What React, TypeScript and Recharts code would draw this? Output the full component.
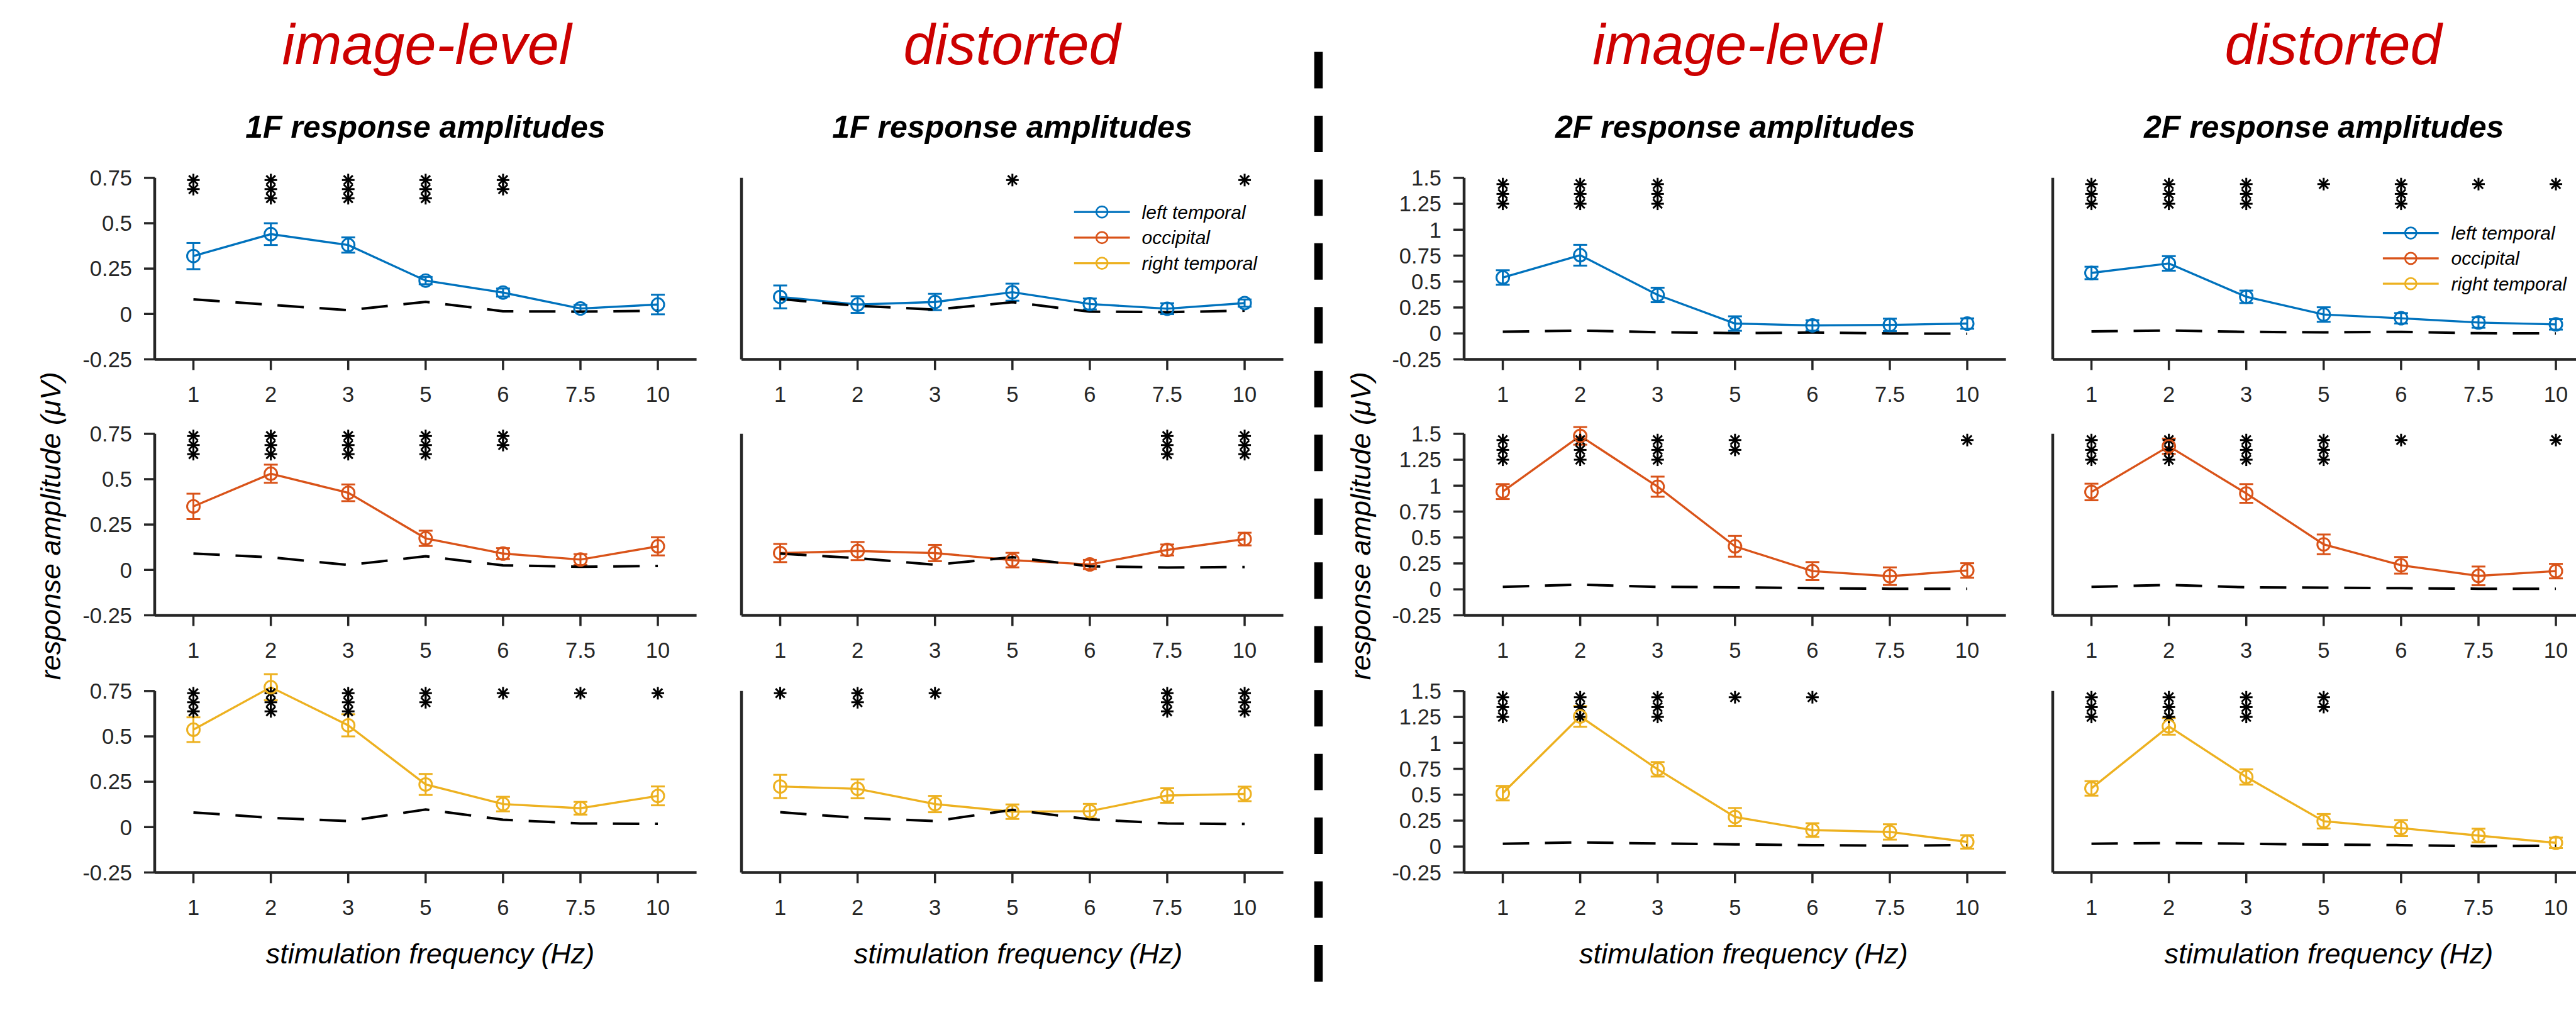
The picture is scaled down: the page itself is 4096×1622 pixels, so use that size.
import React from 'react';
import { ComposedChart, Line, Scatter, XAxis, YAxis, ErrorBar, ReferenceLine } from 'recharts';

const S = 0.906; // reference px -> window px

const freqs = ['1', '2', '3', '5', '6', '7.5', '10'];
const regionNames = ['left temporal', 'occipital', 'right temporal'];
const regionColors = ['#0072BD', '#D95319', '#EDB120'];
const conditionTitles = ['image-level', 'distorted', 'image-level', 'distorted'];
const panelTitles = ['1F response amplitudes', '1F response amplitudes', '2F response amplitudes', '2F response amplitudes'];
const ticks1F = [-0.25, 0, 0.25, 0.5, 0.75];
const ticks2F = [-0.25, 0, 0.25, 0.5, 0.75, 1, 1.25, 1.5];

// 1F, image-level
const f1ImgLeft = [0.319, 0.44, 0.38, 0.184, 0.118, 0.03, 0.052];
const f1ImgLeftErr = [0.072, 0.06, 0.042, 0.02, 0.022, 0.02, 0.054];
const f1ImgLeftNoise = [0.081, 0.05, 0.021, 0.067, 0.015, 0.013, 0.018];
const f1ImgLeftStars = [2, 3, 3, 3, 2, 0, 0];
const f1ImgOcc = [0.35, 0.53, 0.425, 0.174, 0.09, 0.057, 0.13];
const f1ImgOccErr = [0.07, 0.05, 0.046, 0.042, 0.03, 0.03, 0.05];
const f1ImgOccNoise = [0.09, 0.07, 0.027, 0.075, 0.025, 0.017, 0.022];
const f1ImgOccStars = [3, 3, 3, 3, 2, 0, 0];
const f1ImgRight = [0.537, 0.771, 0.561, 0.235, 0.127, 0.104, 0.172];
const f1ImgRightErr = [0.068, 0.072, 0.061, 0.058, 0.04, 0.035, 0.052];
const f1ImgRightNoise = [0.081, 0.051, 0.033, 0.097, 0.041, 0.02, 0.018];
const f1ImgRightStars = [3, 3, 3, 2, 1, 1, 1];

// 1F, distorted
const f1DisLeft = [0.094, 0.052, 0.066, 0.12, 0.055, 0.029, 0.06];
const f1DisLeftErr = [0.063, 0.046, 0.045, 0.047, 0.03, 0.03, 0.02];
const f1DisLeftNoise = [0.082, 0.045, 0.024, 0.065, 0.013, 0.01, 0.018];
const f1DisLeftStars = [0, 0, 0, 1, 0, 0, 1];
const f1DisOcc = [0.093, 0.104, 0.093, 0.054, 0.03, 0.11, 0.17];
const f1DisOccErr = [0.05, 0.05, 0.045, 0.04, 0.025, 0.03, 0.035];
const f1DisOccNoise = [0.09, 0.065, 0.028, 0.07, 0.02, 0.013, 0.016];
const f1DisOccStars = [0, 0, 0, 0, 0, 3, 3];
const f1DisRight = [0.224, 0.211, 0.127, 0.085, 0.088, 0.174, 0.183];
const f1DisRightErr = [0.064, 0.052, 0.045, 0.04, 0.04, 0.04, 0.04];
const f1DisRightNoise = [0.082, 0.051, 0.033, 0.095, 0.043, 0.02, 0.017];
const f1DisRightStars = [1, 2, 1, 0, 0, 3, 3];

// 2F, image-level
const f2ImgLeft = [0.539, 0.754, 0.371, 0.095, 0.077, 0.082, 0.095];
const f2ImgLeftErr = [0.07, 0.1, 0.07, 0.07, 0.05, 0.06, 0.05];
const f2ImgLeftNoise = [0.016, 0.027, 0.012, 0.003, 0.008, 0.0, -0.003];
const f2ImgLeftStars = [3, 3, 3, 0, 0, 0, 0];
const f2ImgOcc = [0.943, 1.48, 0.99, 0.415, 0.176, 0.127, 0.182];
const f2ImgOccErr = [0.072, 0.085, 0.097, 0.1, 0.087, 0.085, 0.07];
const f2ImgOccNoise = [0.024, 0.046, 0.024, 0.02, 0.011, 0.006, 0.006];
const f2ImgOccStars = [3, 3, 3, 2, 0, 0, 1];
const f2ImgRight = [0.515, 1.255, 0.745, 0.285, 0.159, 0.141, 0.045];
const f2ImgRightErr = [0.07, 0.1, 0.07, 0.087, 0.066, 0.074, 0.065];
const f2ImgRightNoise = [0.027, 0.04, 0.03, 0.021, 0.014, 0.008, 0.014];
const f2ImgRightStars = [3, 3, 3, 1, 1, 0, 0];

// 2F, distorted
const f2DisLeft = [0.583, 0.675, 0.353, 0.182, 0.146, 0.105, 0.087];
const f2DisLeftErr = [0.06, 0.07, 0.06, 0.07, 0.05, 0.05, 0.05];
const f2DisLeftNoise = [0.02, 0.028, 0.015, 0.01, 0.015, 0.002, 0.0];
const f2DisLeftStars = [3, 3, 3, 1, 3, 1, 1];
const f2DisOcc = [0.939, 1.38, 0.925, 0.434, 0.232, 0.13, 0.176];
const f2DisOccErr = [0.08, 0.074, 0.09, 0.095, 0.08, 0.09, 0.07];
const f2DisOccNoise = [0.024, 0.042, 0.02, 0.017, 0.011, 0.006, 0.006];
const f2DisOccStars = [3, 3, 3, 3, 1, 0, 1];
const f2DisRight = [0.561, 1.159, 0.671, 0.244, 0.178, 0.106, 0.036];
const f2DisRightErr = [0.07, 0.08, 0.074, 0.07, 0.077, 0.066, 0.05];
const f2DisRightNoise = [0.027, 0.034, 0.027, 0.019, 0.014, 0.004, 0.008];
const f2DisRightStars = [3, 3, 3, 2, 0, 0, 0];

// layout (reference px scaled to the window)
const colLeft = [271, 1301, 2570, 3603].map((v) => v * S);
const rowTop = [312, 761, 1213].map((v) => v * S);
const PLOT_W = 951 * S;
const AXIS_H = 318.5 * S;
const HEAD = AXIS_H * 0.1; // room above the axis top for overflowing points
const YW = 160;
const MT = 10;
const MR = 10;
const XH = 90;
const AX = '#262626';
const FONT = '"Liberation Sans", Arial, Helvetica, sans-serif';

const StarShape = (props: any) => {
  const { cx, cy } = props;
  const r = 10;
  const d = r * 0.72;
  return (
    <g stroke="#000" strokeWidth={3}>
      <line x1={cx} y1={cy - r} x2={cx} y2={cy + r} />
      <line x1={cx - r} y1={cy} x2={cx + r} y2={cy} />
      <line x1={cx - d} y1={cy - d} x2={cx + d} y2={cy + d} />
      <line x1={cx - d} y1={cy + d} x2={cx + d} y2={cy - d} />
    </g>
  );
};

interface PanelProps {
  col: number;
  row: number;
  mean: number[];
  err: number[];
  noise: number[];
  stars: number[];
}

const Panel = ({ col, row, mean, err, noise, stars }: PanelProps) => {
  const is2F = col >= 2;
  const color = regionColors[row];
  const yMin = -0.25;
  const yMax = is2F ? 1.5 : 0.75;
  const yTop = yMax + (yMax - yMin) * 0.1;
  const showY = col === 0 || col === 2;

  const data = freqs.map((f, i) => ({ idx: i + 1, freq: f, mean: mean[i], err: err[i], noise: noise[i] }));

  const starTop = is2F ? 1.44 : 0.738;
  const starStep = is2F ? 0.095 : 0.05;
  const starPts: { idx: number; y: number }[] = [];
  stars.forEach((n, i) => {
    for (let k = 0; k < n; k++) starPts.push({ idx: i + 1, y: starTop - k * starStep });
  });

  const W = YW + PLOT_W + MR;
  const H = MT + HEAD + AXIS_H + XH;

  return (
    <div style={{ position: 'absolute', left: colLeft[col] - YW, top: rowTop[row] - HEAD - MT }}>
      <ComposedChart width={W} height={H} data={data} margin={{ top: MT, right: MR, bottom: 0, left: 0 }}>
        <XAxis
          dataKey="idx"
          type="number"
          domain={[0.5, 7.5]}
          ticks={[1, 2, 3, 4, 5, 6, 7]}
          interval={0}
          tickFormatter={(v: number) => freqs[v - 1]}
          height={XH}
          tickSize={17}
          tickMargin={25.6}
          axisLine={{ stroke: AX, strokeWidth: 4.5 }}
          tickLine={{ stroke: AX, strokeWidth: 3.5 }}
          tick={{ fontSize: 34.5, fill: AX, fontFamily: FONT }}
        />
        <YAxis
          type="number"
          domain={[yMin, yTop]}
          ticks={is2F ? ticks2F : ticks1F}
          interval={0}
          width={YW}
          tickSize={17}
          tickMargin={19}
          axisLine={false}
          tickLine={{ stroke: AX, strokeWidth: 3.5 }}
          tick={showY ? { fontSize: 34.5, fill: AX, fontFamily: FONT } : false}
        />
        <ReferenceLine
          segment={[{ x: 0.5, y: yMin }, { x: 0.5, y: yMax }]}
          stroke={AX}
          strokeWidth={4.5}
          ifOverflow="visible"
        />
        <Line
          dataKey="mean"
          stroke={color}
          strokeWidth={3.4}
          dot={{ r: 10, stroke: color, strokeWidth: 3, fill: 'none' }}
          activeDot={false}
          isAnimationActive={false}
        >
          <ErrorBar dataKey="err" width={11} strokeWidth={3} stroke={color} direction="y" />
        </Line>
        <Line
          dataKey="noise"
          stroke="#000"
          strokeWidth={4}
          strokeDasharray="42 25"
          dot={false}
          activeDot={false}
          isAnimationActive={false}
        />
        <Scatter data={starPts} dataKey="y" shape={StarShape} isAnimationActive={false} />
      </ComposedChart>
    </div>
  );
};

const panels: PanelProps[] = [
  { col: 0, row: 0, mean: f1ImgLeft, err: f1ImgLeftErr, noise: f1ImgLeftNoise, stars: f1ImgLeftStars },
  { col: 0, row: 1, mean: f1ImgOcc, err: f1ImgOccErr, noise: f1ImgOccNoise, stars: f1ImgOccStars },
  { col: 0, row: 2, mean: f1ImgRight, err: f1ImgRightErr, noise: f1ImgRightNoise, stars: f1ImgRightStars },
  { col: 1, row: 0, mean: f1DisLeft, err: f1DisLeftErr, noise: f1DisLeftNoise, stars: f1DisLeftStars },
  { col: 1, row: 1, mean: f1DisOcc, err: f1DisOccErr, noise: f1DisOccNoise, stars: f1DisOccStars },
  { col: 1, row: 2, mean: f1DisRight, err: f1DisRightErr, noise: f1DisRightNoise, stars: f1DisRightStars },
  { col: 2, row: 0, mean: f2ImgLeft, err: f2ImgLeftErr, noise: f2ImgLeftNoise, stars: f2ImgLeftStars },
  { col: 2, row: 1, mean: f2ImgOcc, err: f2ImgOccErr, noise: f2ImgOccNoise, stars: f2ImgOccStars },
  { col: 2, row: 2, mean: f2ImgRight, err: f2ImgRightErr, noise: f2ImgRightNoise, stars: f2ImgRightStars },
  { col: 3, row: 0, mean: f2DisLeft, err: f2DisLeftErr, noise: f2DisLeftNoise, stars: f2DisLeftStars },
  { col: 3, row: 1, mean: f2DisOcc, err: f2DisOccErr, noise: f2DisOccNoise, stars: f2DisOccStars },
  { col: 3, row: 2, mean: f2DisRight, err: f2DisRightErr, noise: f2DisRightNoise, stars: f2DisRightStars },
];

const titleX = [749, 1776, 3049, 4095].map((v) => v * S);
const xLabelX = [755, 1787, 3060, 4087].map((v) => v * S);
const yLabelX = [106, 2405].map((v) => v * S);
// legend boxes: line start, line end, text start, first row y, row step
const legends = [
  { x1: 1885 * S, x2: 1983 * S, tx: 2004 * S, y: 372 * S, step: 45 * S },
  { x1: 4182 * S, x2: 4280 * S, tx: 4302 * S, y: 409 * S, step: 44.5 * S },
];

const Overlay = () => (
  <svg width={4096} height={1622} style={{ position: 'absolute', left: 0, top: 0, fontFamily: FONT }}>
    {conditionTitles.map((t, c) => (
      <text key={'t' + c} x={titleX[c]} y={113 * S} textAnchor="middle" fontSize={90} fontStyle="italic" fill="#CC0000">
        {t}
      </text>
    ))}
    {panelTitles.map((t, c) => (
      <text key={'s' + c} x={colLeft[c] + PLOT_W / 2} y={242 * S} textAnchor="middle" fontSize={50} fontStyle="italic" fontWeight="bold" fill="#000">
        {t}
      </text>
    ))}
    {xLabelX.map((x, c) => (
      <text key={'x' + c} x={x} y={1691.5 * S} textAnchor="middle" fontSize={45} fontStyle="italic" fill="#000">
        stimulation frequency (Hz)
      </text>
    ))}
    {yLabelX.map((x, c) => (
      <text key={'y' + c} x={x} y={923 * S} transform={`rotate(-90 ${x} ${923 * S})`} textAnchor="middle" fontSize={45} fontStyle="italic" fill="#000">
        response amplitude (μV)
      </text>
    ))}
    <line x1={2314 * S} y1={91 * S} x2={2314 * S} y2={1723 * S} stroke="#000" strokeWidth={13.5} strokeDasharray={`${64 * S} ${48 * S}`} />
    {legends.map((lg, li) => (
      <g key={'l' + li}>
        {regionNames.map((name, i) => {
          const y = lg.y + i * lg.step;
          return (
            <g key={name}>
              <line x1={lg.x1} y1={y} x2={lg.x2} y2={y} stroke={regionColors[i]} strokeWidth={3.2} />
              <circle cx={(lg.x1 + lg.x2) / 2} cy={y} r={9} stroke={regionColors[i]} strokeWidth={2.7} fill="none" />
              <text x={lg.tx} y={y + 10.5} fontSize={30} fontStyle="italic" fill="#000">
                {name}
              </text>
            </g>
          );
        })}
      </g>
    ))}
  </svg>
);

export default function App() {
  return (
    <div
      style={{
        position: 'absolute',
        left: 0,
        top: 0,
        width: 4096,
        height: 1622,
        overflow: 'hidden',
        background: '#fff',
        fontFamily: FONT,
      }}
    >
      {panels.map((p) => (
        <Panel key={`${p.col}-${p.row}`} {...p} />
      ))}
      <Overlay />
    </div>
  );
}
